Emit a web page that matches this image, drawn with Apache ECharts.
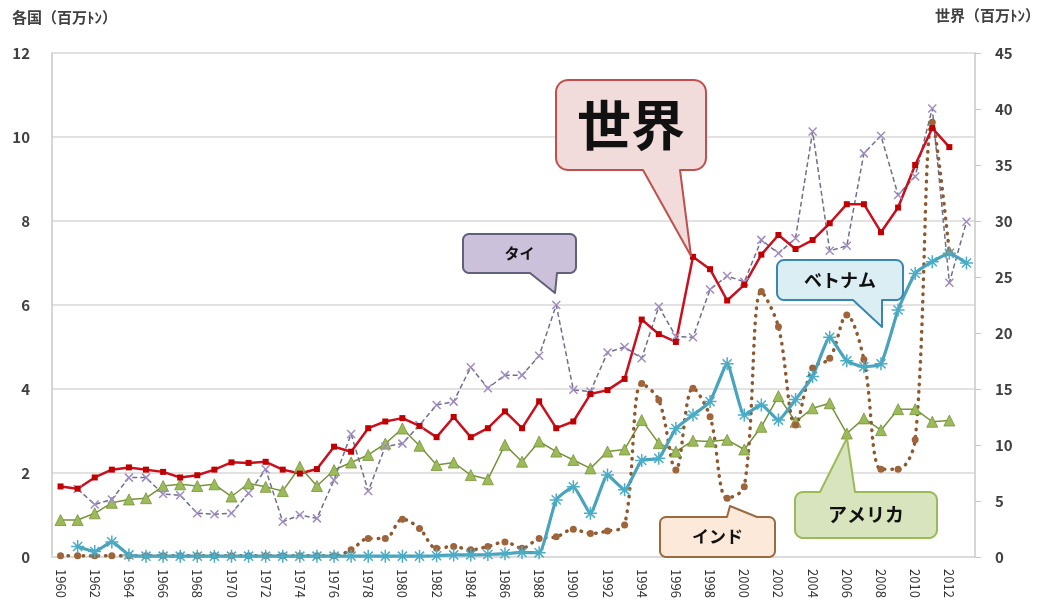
<!DOCTYPE html>
<html><head><meta charset="utf-8">
<script src="https://cdn.jsdelivr.net/npm/echarts@6/dist/echarts.min.js"></script>
<style>html,body{margin:0;padding:0;background:#fff}#c{width:1046px;height:604px}</style>
</head><body><div id="c"></div>
<script>
var years = [];
for (var y = 1960; y <= 2013; y++) years.push(String(y));

var leftTicks = [0, 2, 4, 6, 8, 10, 12];
var rightTicks = [0, 5, 10, 15, 20, 25, 30, 35, 40, 45];

// World (right axis, million t)
var world = [
  6.3, 6.1, 7.1, 7.8, 8.0, 7.8, 7.6, 7.1, 7.3, 7.8,
  8.45, 8.4, 8.5, 7.8, 7.45, 7.85, 9.85, 9.4, 11.5, 12.1,
  12.4, 11.7, 10.7, 12.5, 10.7, 11.5, 13.0, 11.5, 13.9, 11.5,
  12.1, 14.55, 14.9, 15.9, 21.2, 19.9, 19.2, 26.8, 25.7, 22.9,
  24.3, 27.0, 28.75, 27.5, 28.3, 29.8, 31.5, 31.5, 29.0, 31.2,
  35.0, 38.3, 36.6, null
];
// Thailand
var thailand = [
  null, 1.62, 1.25, 1.37, 1.89, 1.89, 1.5, 1.47, 1.04, 1.02,
  1.04, 1.52, 2.09, 0.84, 1.0, 0.92, 1.83, 2.93, 1.57, 2.63,
  2.7, 3.14, 3.62, 3.7, 4.52, 4.02, 4.33, 4.33, 4.79, 6.0,
  3.98, 3.94, 4.87, 5.0, 4.73, 5.96, 5.25, 5.23, 6.37, 6.69,
  6.55, 7.55, 7.23, 7.59, 10.13, 7.29, 7.41, 9.61, 10.03, 8.62,
  9.06, 10.68, 6.53, 7.98
];
// Vietnam
var vietnam = [
  null, 0.25, 0.13, 0.36, 0.05, 0.02, 0.02, 0.02, 0.02, 0.02,
  0.02, 0.02, 0.02, 0.02, 0.02, 0.02, 0.02, 0.02, 0.02, 0.02,
  0.02, 0.02, 0.03, 0.05, 0.05, 0.06, 0.08, 0.11, 0.1, 1.36,
  1.67, 1.04, 1.95, 1.6, 2.3, 2.35, 3.06, 3.38, 3.7, 4.6,
  3.38, 3.62, 3.26, 3.75, 4.3, 5.23, 4.67, 4.53, 4.6, 5.88,
  6.75, 7.03, 7.23, 7.0
];
// India
var india = [
  0.03, 0.03, 0.03, 0.03, 0.03, 0.03, 0.03, 0.03, 0.03, 0.03,
  0.03, 0.03, 0.03, 0.03, 0.03, 0.03, 0.03, 0.17, 0.44, 0.44,
  0.9, 0.68, 0.21, 0.25, 0.17, 0.25, 0.36, 0.21, 0.44, 0.48,
  0.66, 0.56, 0.62, 0.76, 4.13, 3.74, 2.07, 4.02, 3.34, 1.4,
  1.67, 6.32, 5.48, 3.14, 4.5, 4.73, 5.76, 4.7, 2.09, 2.09,
  2.79, 10.35, 7.25, null
];
// USA
var usa = [
  0.88, 0.88, 1.04, 1.29, 1.37, 1.4, 1.69, 1.73, 1.69, 1.73,
  1.44, 1.75, 1.67, 1.57, 2.15, 1.69, 2.07, 2.25, 2.43, 2.7,
  3.06, 2.65, 2.19, 2.25, 1.95, 1.85, 2.67, 2.27, 2.75, 2.51,
  2.31, 2.11, 2.51, 2.56, 3.26, 2.71, 2.51, 2.77, 2.75, 2.79,
  2.56, 3.1, 3.83, 3.22, 3.54, 3.66, 2.94, 3.3, 3.02, 3.52,
  3.52, 3.22, 3.25, null
];

var FONT = '"Noto Sans CJK JP", "Noto Sans", sans-serif';

function arcPts(cx, cy, r, a0, a1) {
  var pts = [], n = 6;
  for (var i = 0; i <= n; i++) {
    var t = a0 + (a1 - a0) * i / n;
    pts.push([cx + r * Math.cos(t), cy + r * Math.sin(t)]);
  }
  return pts;
}

function calloutPoints(c) {
  var x = c.x, y = c.y, w = c.w, h = c.h, r = c.r, P = Math.PI;
  var pts = [];
  pts = pts.concat(arcPts(x + r, y + r, r, P, 1.5 * P));
  if (c.side === 'top') { pts.push([x + c.a, y], [c.tx, c.ty], [x + c.b, y]); }
  pts = pts.concat(arcPts(x + w - r, y + r, r, 1.5 * P, 2 * P));
  pts = pts.concat(arcPts(x + w - r, y + h - r, r, 0, 0.5 * P));
  if (c.side === 'bottom') { pts.push([x + c.b, y + h], [c.tx, c.ty], [x + c.a, y + h]); }
  pts = pts.concat(arcPts(x + r, y + h - r, r, 0.5 * P, P));
  return pts;
}

function callout(c) {
  return [{
    type: 'polygon', z: 100,
    shape: { points: calloutPoints(c) },
    style: { fill: c.fill, stroke: c.stroke, lineWidth: 2, lineJoin: 'round' }
  }, {
    type: 'text', z: 101,
    x: c.x + c.w / 2, y: c.y + c.h / 2,
    style: { text: c.text, fill: '#111', font: 'bold ' + c.fs + 'px ' + FONT, align: 'center', verticalAlign: 'middle' }
  }];
}

var callouts = [
  { text: '世界', x: 556, y: 80, w: 150, h: 90, r: 12, side: 'bottom', a: 87, b: 124, tx: 691, ty: 256, fill: '#f2dcdb', stroke: '#c0504d', fs: 54 },
  { text: 'タイ', x: 463, y: 234, w: 113, h: 39, r: 6, side: 'bottom', a: 67, b: 94, tx: 555, ty: 293, fill: '#ccc1da', stroke: '#60607a', fs: 15 },
  { text: 'ベトナム', x: 777, y: 260, w: 126, h: 40, r: 7, side: 'bottom', a: 76, b: 105, tx: 882, ty: 327, fill: '#dbeef4', stroke: '#3a86b0', fs: 18 },
  { text: 'インド', x: 660, y: 517, w: 115, h: 40, r: 6, side: 'top', a: 67, b: 97, tx: 730, ty: 506, fill: '#fde9d9', stroke: '#9a6a40', fs: 17 },
  { text: 'アメリカ', x: 795, y: 492, w: 142, h: 46, r: 8, side: 'top', a: 25, b: 60, tx: 847, ty: 438, fill: '#d7e4bd', stroke: '#9bbb59', fs: 19 }
];

var graphics = [];
callouts.forEach(function (c) { graphics = graphics.concat(callout(c)); });
graphics.push({ type: 'text', x: 12, y: 10, style: { text: '各国（百万ﾄﾝ）', fill: '#404040', font: 'bold 15px ' + FONT } });
graphics.push({ type: 'text', x: 1040, y: 8, style: { text: '世界（百万ﾄﾝ）', fill: '#404040', font: 'bold 15px ' + FONT, align: 'right' } });

var chart = echarts.init(document.getElementById('c'));
chart.setOption({
  animation: false,
  backgroundColor: '#fff',
  grid: { left: 52, right: 71, top: 53, bottom: 47 },
  xAxis: {
    type: 'category', data: years, boundaryGap: true,
    axisLine: { lineStyle: { color: '#d9d9d9', width: 1.5 } },
    axisTick: { show: false },
    axisLabel: { interval: 1, rotate: -90, margin: 12, fontSize: 13, color: '#333', fontFamily: FONT }
  },
  yAxis: [{
    type: 'value', min: leftTicks[0], max: leftTicks[leftTicks.length - 1], interval: 2,
    axisLine: { show: true, lineStyle: { color: '#c8c8c8', width: 1.5 } },
    axisTick: { show: false },
    splitLine: { lineStyle: { color: '#d9d9d9', width: 1.5 } },
    axisLabel: { margin: 22, fontSize: 15, color: '#404040', fontFamily: FONT, fontWeight: 'bold' }
  }, {
    type: 'value', min: rightTicks[0], max: rightTicks[rightTicks.length - 1], interval: 5,
    position: 'right',
    axisLine: { show: true, lineStyle: { color: '#c8c8c8', width: 1.5 } },
    axisTick: { show: true, length: 6, lineStyle: { color: '#c8c8c8' } },
    splitLine: { show: false },
    axisLabel: { margin: 20, fontSize: 15, color: '#404040', fontFamily: FONT, fontWeight: 'bold' }
  }],
  series: [{
    name: 'アメリカ', type: 'line', data: usa, yAxisIndex: 0, showAllSymbol: true,
    symbol: 'triangle', symbolSize: 11,
    lineStyle: { color: '#77933c', width: 1.5 },
    itemStyle: { color: '#9bbb59', borderColor: '#77933c', borderWidth: 0.8 }
  }, {
    name: 'タイ', type: 'line', data: thailand, yAxisIndex: 0, showAllSymbol: true,
    symbol: 'path://M0,0L10,10M10,0L0,10', symbolSize: 8,
    lineStyle: { color: '#6f6f8c', width: 1.5, type: [5, 3] },
    itemStyle: { color: 'none', borderColor: '#a08cc0', borderWidth: 1.5 }
  }, {
    name: 'インド', type: 'line', data: india, yAxisIndex: 0, smooth: 0.35, showAllSymbol: true,
    symbol: 'circle', symbolSize: 7,
    lineStyle: { color: '#8c5a30', width: 3.5, type: [0.5, 7], cap: 'round' },
    itemStyle: { color: '#a0643a', borderWidth: 0 }
  }, {
    name: 'ベトナム', type: 'line', data: vietnam, yAxisIndex: 0, smooth: 0.15, showAllSymbol: true,
    symbol: 'path://M5,0L5,10M0,5L10,5M1.5,1.5L8.5,8.5M8.5,1.5L1.5,8.5', symbolSize: 13,
    lineStyle: { color: '#4aa3bd', width: 3.2 },
    itemStyle: { color: 'none', borderColor: '#4bacc6', borderWidth: 1.5 }
  }, {
    name: '世界', type: 'line', data: world, yAxisIndex: 1, showAllSymbol: true,
    symbol: 'rect', symbolSize: 6,
    lineStyle: { color: '#c8101e', width: 2.5 },
    itemStyle: { color: '#c00000', borderWidth: 0 }
  }],
  graphic: graphics
});
</script>
</body></html>
